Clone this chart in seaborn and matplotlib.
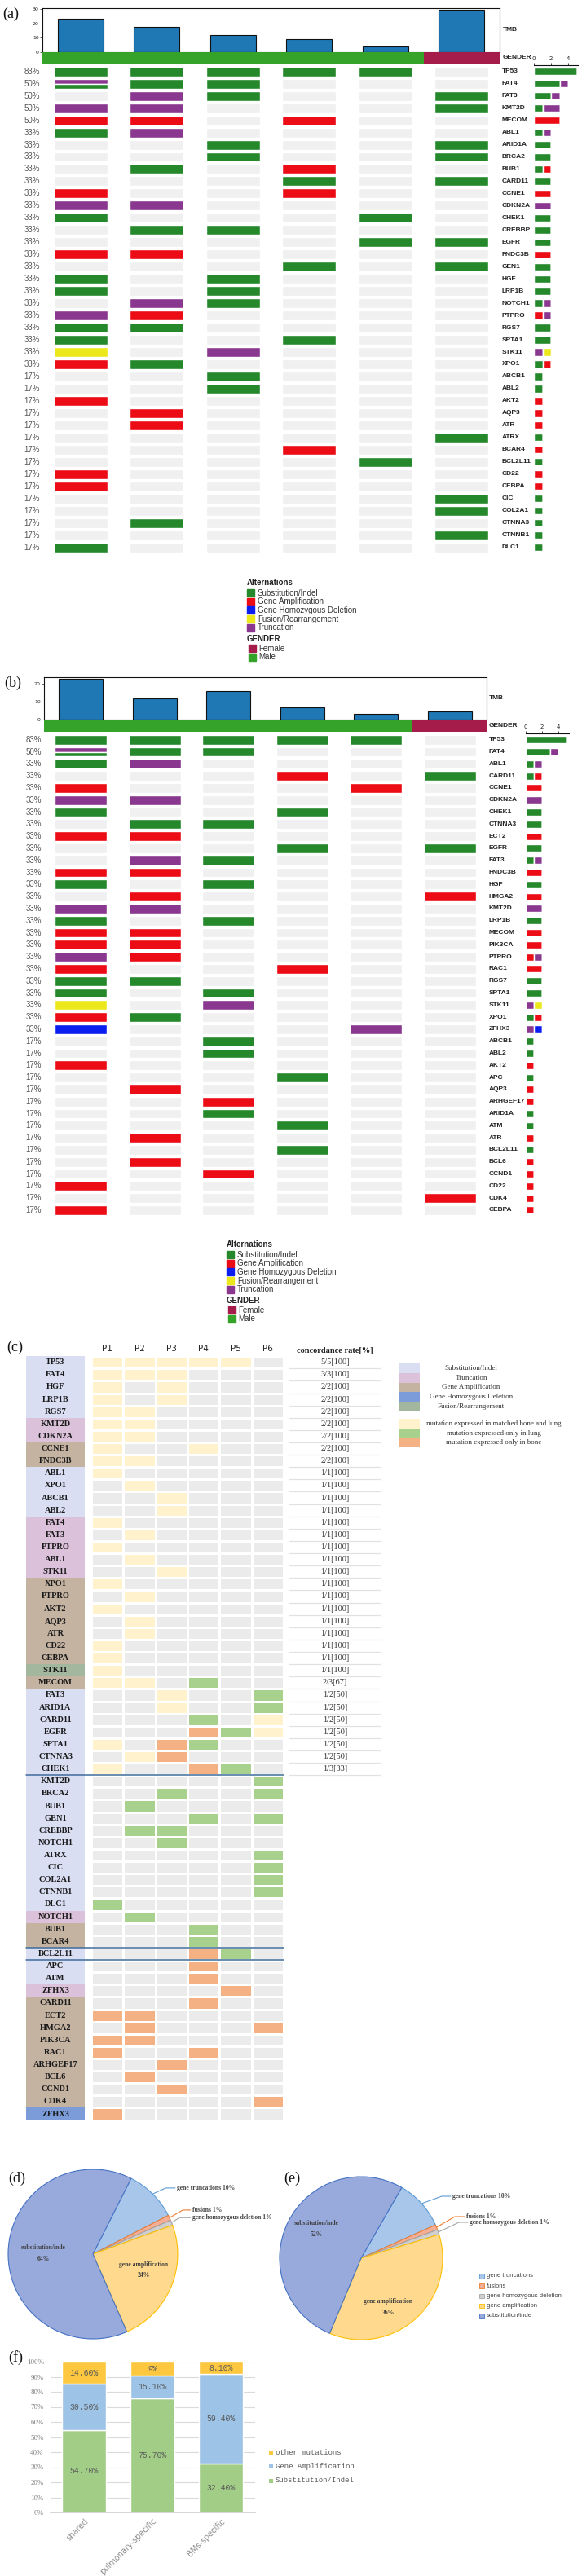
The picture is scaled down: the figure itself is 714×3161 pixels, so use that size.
import numpy as np
import matplotlib
matplotlib.use('Agg')
import matplotlib.pyplot as plt
from matplotlib.colors import ListedColormap
from matplotlib.patches import Rectangle
import seaborn as sns

sns.set_theme(style='white')
plt.rcParams['font.family'] = ['DejaVu Sans']

NARROW = ['Liberation Sans Narrow', 'Liberation Sans', 'DejaVu Sans']
SERIF = ['Liberation Serif', 'DejaVu Serif']
MONO = ['Liberation Mono', 'DejaVu Sans Mono']

W, H = 714, 3161

patients = ['P1', 'P2', 'P3', 'P4', 'P5', 'P6']
gender = ['Male', 'Male', 'Male', 'Male', 'Male', 'Female']

# alteration codes: G sub/indel, R amplification, B hom. deletion, Y fusion, P truncation
alt_codes = ['G', 'R', 'B', 'Y', 'P']
alt_labels = ['Substitution/Indel', 'Gene Amplification', 'Gene Homozygous Deletion',
              'Fusion/Rearrangement', 'Truncation']

# ---- panel (a)
tmb_a = [23, 17.5, 11.5, 9, 3.5, 29.5]
genes_a = ['TP53', 'FAT4', 'FAT3', 'KMT2D', 'MECOM', 'ABL1', 'ARID1A', 'BRCA2',
           'BUB1', 'CARD11', 'CCNE1', 'CDKN2A', 'CHEK1', 'CREBBP', 'EGFR', 'FNDC3B',
           'GEN1', 'HGF', 'LRP1B', 'NOTCH1', 'PTPRO', 'RGS7', 'SPTA1', 'STK11',
           'XPO1', 'ABCB1', 'ABL2', 'AKT2', 'AQP3', 'ATR', 'ATRX', 'BCAR4',
           'BCL2L11', 'CD22', 'CEBPA', 'CIC', 'COL2A1', 'CTNNA3', 'CTNNB1', 'DLC1']
muts_a = ['G G G G G -', 'PG G G - - -', '- P G - - G', 'P P - - - G', 'R R - R - -', 'G P - - - -', '- - G - - G', '- - G - - G',
          '- G - R - -', '- - - G - G', 'R - - R - -', 'P P - - - -', 'G - - - G -', '- G G - - -', '- - - - G G', 'R R - - - -',
          '- - - G - G', 'G - G - - -', 'G - G - - -', '- P G - - -', 'P R - - - -', 'G G - - - -', 'G - - G - -', 'Y - P - - -',
          'R G - - - -', '- - G - - -', '- - G - - -', 'R - - - - -', '- R - - - -', '- R - - - -', '- - - - - G', '- - - R - -',
          '- - - - G -', 'R - - - - -', 'R - - - - -', '- - - - - G', '- - - - - G', '- G - - - -', '- - - - - G', 'G - - - - -']

# ---- panel (b)
tmb_b = [22.5, 12, 16, 7, 3, 4.5]
genes_b = ['TP53', 'FAT4', 'ABL1', 'CARD11', 'CCNE1', 'CDKN2A', 'CHEK1', 'CTNNA3',
           'ECT2', 'EGFR', 'FAT3', 'FNDC3B', 'HGF', 'HMGA2', 'KMT2D', 'LRP1B',
           'MECOM', 'PIK3CA', 'PTPRO', 'RAC1', 'RGS7', 'SPTA1', 'STK11', 'XPO1',
           'ZFHX3', 'ABCB1', 'ABL2', 'AKT2', 'APC', 'AQP3', 'ARHGEF17', 'ARID1A',
           'ATM', 'ATR', 'BCL2L11', 'BCL6', 'CCND1', 'CD22', 'CDK4', 'CEBPA']
muts_b = ['G G G G G -', 'PG G G - - -', 'G P - - - -', '- - - R - G', 'R - - - R -', 'P P - - - -', 'G - - G - -', '- G G - - -',
          'R R - - - -', '- - - G - G', '- P G - - -', 'R R - - - -', 'G - G - - -', '- R - - - R', 'P P - - - -', 'G - G - - -',
          'R R - - - -', 'R R - - - -', 'P R - - - -', 'R - - R - -', 'G G - - - -', 'G - G - - -', 'Y - P - - -', 'R G - - - -',
          'B - - - P -', '- - G - - -', '- - G - - -', 'R - - - - -', '- - - G - -', '- R - - - -', '- - R - - -', '- - G - - -',
          '- - - G - -', '- R - - - -', '- - - G - -', '- R - - - -', '- - R - - -', 'R - - - - -', '- - - - - R', 'R - - - - -']

# ---- panel (c): category S sub/indel, T truncation, A amplification, D deletion, F fusion
# cell: Y both, L lung only, O bone only, - none
genes_c = ['TP53', 'FAT4', 'HGF', 'LRP1B', 'RGS7', 'KMT2D', 'CDKN2A', 'CCNE1', 'FNDC3B',
           'ABL1', 'XPO1', 'ABCB1', 'ABL2', 'FAT4', 'FAT3', 'PTPRO', 'ABL1', 'STK11',
           'XPO1', 'PTPRO', 'AKT2', 'AQP3', 'ATR', 'CD22', 'CEBPA', 'STK11', 'MECOM',
           'FAT3', 'ARID1A', 'CARD11', 'EGFR', 'SPTA1', 'CTNNA3', 'CHEK1', 'KMT2D',
           'BRCA2', 'BUB1', 'GEN1', 'CREBBP', 'NOTCH1', 'ATRX', 'CIC', 'COL2A1',
           'CTNNB1', 'DLC1', 'NOTCH1', 'BUB1', 'BCAR4', 'BCL2L11', 'APC', 'ATM',
           'ZFHX3', 'CARD11', 'ECT2', 'HMGA2', 'PIK3CA', 'RAC1', 'ARHGEF17', 'BCL6',
           'CCND1', 'CDK4', 'ZFHX3']
cat_c = list('SSSSSTTAASSSSTTTTTAAAAAAAFASSSSSSSSSSSSSSSSSSTAASSSTAAAAAAAAAD')
grid_c = ['YYYYY-', 'YYY---', 'Y-Y---', 'Y-Y---', 'YY----', 'YY----', 'YY----', 'Y--Y--',
          'YY----', 'Y-----', '-Y----', '--Y---', '--Y---', 'Y-----', '-Y----', 'Y-----',
          '-Y----', '--Y---', 'Y-----', '-Y----', 'Y-----', '-Y----', '-Y----', 'Y-----',
          'Y-----', 'Y-----', 'YY-L--', '--Y--L', '--Y--L', '---L-Y', '---OLY', 'Y-OL--',
          '-YO---', 'Y--OL-', '-----L', '--L--L', '-L----', '---L-L', '-LL---', '--L---',
          '-----L', '-----L', '-----L', '-----L', 'L-----', '-L----', '---L--', '---L--',
          '---OL-', '---O--', '---O--', '----O-', '---O--', 'OO----', '-O---O', 'OO----',
          'O--O--', '--O---', '-O----', '--O---', '-----O', 'O-----']
concord_c = ['5/5[100]', '3/3[100]'] + ['2/2[100]'] * 7 + ['1/1[100]'] * 17 + \
            ['2/3[67]'] + ['1/2[50]'] * 6 + ['1/3[33]']
separators_c = [34, 48, 49]

# ---- panels (d), (e)
pie_labels = ['gene truncations', 'fusions', 'gene homozygous deletion',
              'gene amplification', 'substitution/inde']
pie_d = [10, 1, 1, 24, 64]
pie_e = [10, 1, 1, 36, 52]

# ---- panel (f)
f_groups = ['shared', 'pulmonary-specific', 'BMs-specific']
f_sub = [54.7, 75.7, 32.4]
f_amp = [30.5, 15.1, 59.4]
f_other = [14.6, 9, 8.1]
f_names = ['Substitution/Indel', 'Gene Amplification', 'other mutations']

alt_color = {'G': '#25892c', 'R': '#ec0c16', 'B': '#0a1ef0', 'Y': '#ede81c', 'P': '#8a3790'}
gender_color = {'Male': '#35a22a', 'Female': '#a51c4b'}
cell_colors = ['#ebebeb', '#fff2cc', '#a9d18e', '#f4b183']
cat_colors = ['#d9def3', '#dcc1db', '#c5b3a2', '#7b9cd9', '#a2b79d']
pie_face = ['#a8c6ea', '#f4ae95', '#cfcfcf', '#fed98e', '#98a9dc']
pie_edge = ['#5b9bd5', '#ed7d31', '#a5a5a5', '#ffc000', '#4472c4']
f_colors = ['#a2cd86', '#9dc3e6', '#fdc83f']

fig = plt.figure(figsize=(W / 100, H / 100), dpi=100)


def add_ax(x0, y0, x1, y1):
    return fig.add_axes([x0 / W, 1 - y1 / H, (x1 - x0) / W, (y1 - y0) / H])


def oncoprint(genes, muts, tmb, tmb_max, tmb_ticks, x0, x1, y_tmb, y_gen,
              y_row0, row_h, pct_x, gene_x, cnt_x, cnt_max):
    n = len(genes)
    grid = [m.split() for m in muts]

    ax = add_ax(x0, y_tmb[0], x1, y_tmb[1])
    sns.barplot(x=patients, y=tmb, ax=ax, color='#1f78b4', saturation=1, width=0.6,
                edgecolor='#111111', linewidth=0.8)
    ax.set_xlim(-0.5, 5.5)
    ax.set_ylim(0, tmb_max)
    ax.set_xticks([])
    ax.set_xlabel('')
    ax.set_ylabel('')
    ax.set_yticks(tmb_ticks)
    ax.tick_params(axis='y', left=True, labelsize=4.5, length=2, width=0.5, pad=1)
    for s in ax.spines.values():
        s.set_linewidth(0.8)
        s.set_color('#111111')

    axg = add_ax(x0, y_gen[0], x1, y_gen[1])
    axg.bar(range(6), 1, width=1.0, linewidth=0,
            color=[gender_color[g] for g in gender])
    axg.set_xlim(-0.5, 5.5)
    axg.set_ylim(0, 1)
    axg.axis('off')

    ym0 = y_row0 - row_h / 2
    ym1 = y_row0 + (n - 0.5) * row_h
    axm = add_ax(x0, ym0, x1, ym1)
    rows = np.arange(n)
    for j in range(6):
        axm.bar(np.full(n, j), 0.8, bottom=rows - 0.4, width=0.71, color='#f0f0f0')
    for i, row in enumerate(grid):
        for j, cell in enumerate(row):
            if cell == '-':
                continue
            k = len(cell)
            for m, c in enumerate(cell):
                axm.bar(j, 0.8 / k, bottom=i - 0.4 + m * 0.8 / k, width=0.71,
                        color=alt_color[c])
    axm.set_xlim(-0.5, 5.5)
    axm.set_ylim(n - 0.5, -0.5)
    axm.axis('off')
    tr = axm.get_yaxis_transform()
    for i, row in enumerate(grid):
        n_alt = sum(c != '-' for c in row)
        axm.text((pct_x - x0) / (x1 - x0), i, f'{round(100 * n_alt / 6)}%', transform=tr,
                 ha='right', va='center', fontsize=7, color='#555555', family=NARROW)
        axm.text((gene_x - x0) / (x1 - x0), i, genes[i], transform=tr, ha='left',
                 va='center', fontsize=6, fontweight='bold', color='#222222', family=NARROW)

    axc = add_ax(cnt_x[0], ym0, cnt_x[1], ym1)
    left = np.zeros(n)
    for c in ['G', 'R', 'P', 'B', 'Y']:
        vals = np.array([sum(cell.count(c) for cell in row) for row in grid], dtype=float)
        axc.barh(rows, vals, left=left, height=0.62, color=alt_color[c])
        left += vals
    axc.set_xlim(0, cnt_max)
    axc.set_ylim(n - 0.5, -0.5)
    axc.xaxis.tick_top()
    axc.set_xticks([0, 2, 4])
    axc.set_yticks([])
    axc.tick_params(axis='x', top=True, labeltop=True, bottom=False, labelbottom=False,
                    length=2.5, width=0.6, pad=1, labelsize=5, colors='#222222')
    for s in ['left', 'right', 'bottom']:
        axc.spines[s].set_visible(False)
    axc.spines['top'].set_linewidth(0.8)
    axc.spines['top'].set_color('#111111')


oncoprint(genes_a, muts_a, tmb_a, 30.6, [0, 10, 20, 30], 52, 613, (10, 63.5), (64, 78),
          87.7, 14.97, 49, 616, (655, 709), 5.14)
oncoprint(genes_b, muts_b, tmb_b, 23.6, [0, 10, 20], 54, 597, (831, 883), (884, 898),
          907.7, 14.8, 51, 599.5, (645, 698), 5.3)

# ---- panel (c)
n_c = len(genes_c)
row_c = 15.12
top_c = 1671.7 - row_c / 2
bot_c = top_c + n_c * row_c
code_map = {'-': 0, 'Y': 1, 'L': 2, 'O': 3}
cat_map = {'S': 0, 'T': 1, 'A': 2, 'D': 3, 'F': 4}
cells = np.array([[code_map[c] for c in r] for r in grid_c])
cats = np.array([cat_map[c] for c in cat_c]).reshape(-1, 1)

axl = add_ax(32, top_c, 104, bot_c)
sns.heatmap(cats, ax=axl, cmap=ListedColormap(cat_colors), vmin=-0.5, vmax=4.5, cbar=False,
            annot=np.array(genes_c).reshape(-1, 1), fmt='', xticklabels=False,
            yticklabels=False, linewidths=0,
            annot_kws=dict(fontsize=7.5, fontweight='bold', color='#1a1a1a', family=SERIF))

axh = add_ax(112, top_c, 348, bot_c)
sns.heatmap(cells, ax=axh, cmap=ListedColormap(cell_colors), vmin=-0.5, vmax=3.5, cbar=False,
            linewidths=0.8, linecolor='white', xticklabels=patients, yticklabels=False)
axh.xaxis.tick_top()
axh.tick_params(axis='x', length=0, pad=3, labelsize=7.5, labelcolor='#222222', rotation=0)

axcc = add_ax(355, top_c, 467, bot_c)
axcc.set_xlim(0, 1)
axcc.set_ylim(n_c, 0)
axcc.axis('off')
for i, t in enumerate(concord_c):
    axcc.text(0.5, i + 0.5, t, ha='center', va='center', fontsize=7.5, color='#333333',
              family=SERIF)
    axcc.axhline(i + 1, color='#e2e2e2', lw=0.9)

# ---- panels (d), (e)
def pie_panel(vals, box, start, inner, leaders):
    ax = add_ax(*box)
    wedges, _ = ax.pie(vals, colors=pie_face, startangle=start, counterclock=False,
                       radius=1, wedgeprops=dict(linewidth=0.8))
    for w, ec in zip(wedges, pie_edge):
        w.set_edgecolor(ec)
    ax.set_xlim(-1, 1)
    ax.set_ylim(-1, 1)
    cum = np.cumsum([0] + vals[:-1])
    for k, (elbow, end) in leaders.items():
        th = np.deg2rad(start - (cum[k] + vals[k] / 2) * 3.6)
        ax.plot([np.cos(th), elbow[0], end], [np.sin(th), elbow[1], elbow[1]],
                color=pie_edge[k], lw=0.8, clip_on=False)
        ax.text(end + 0.02, elbow[1], f'{pie_labels[k]} {vals[k]}%', ha='left', va='center',
                fontsize=5.5, fontweight='bold', color='#404040', family=SERIF)
    for k, (x, y) in inner.items():
        ax.text(x, y, f'{pie_labels[k]}\n{vals[k]}%', ha='center', va='center',
                fontsize=5.5, fontweight='bold', color='#404040', family=SERIF,
                linespacing=1.9)


pie_panel(pie_d, (10, 2662, 218, 2870), 63.2,
          {4: (-0.58, 0.01), 3: (0.60, -0.19)},
          {0: ((0.86, 0.78), 0.97), 1: ((1.06, 0.52), 1.15), 2: ((1.02, 0.43), 1.15)})
pie_panel(pie_e, (343, 2671, 543, 2871), 60.1,
          {4: (-0.55, 0.36), 3: (0.33, -0.60)},
          {0: ((0.99, 0.76), 1.10), 1: ((1.15, 0.51), 1.27), 2: ((1.20, 0.44), 1.31)})

# ---- panel (f)
axf = add_ax(62, 2898, 313, 3083)
xs = np.arange(len(f_groups))
bottom = np.zeros(len(f_groups))
for vals, col in zip([f_sub, f_amp, f_other], f_colors):
    axf.bar(xs, vals, bottom=bottom, width=0.65, color=col, zorder=2)
    for x, b, v in zip(xs, bottom, vals):
        lab = f'{v:g}%' if float(v).is_integer() else f'{v:.2f}%'
        axf.text(x, b + v / 2, lab, ha='center', va='center', fontsize=7,
                 color='#5a5a5a', family=MONO, zorder=3)
    bottom += np.array(vals)
axf.set_xlim(-0.49, 2.5)
axf.set_ylim(0, 100)
axf.set_yticks(range(0, 101, 10))
axf.set_yticklabels([f'{t}%' for t in range(0, 101, 10)], family=SERIF)
axf.set_xticks(xs)
axf.set_xticklabels(f_groups, rotation=45, ha='right', rotation_mode='anchor')
axf.tick_params(axis='y', length=0, pad=6, labelsize=6.5, labelcolor='#7f7f7f')
axf.tick_params(axis='x', length=0, pad=4, labelsize=7, labelcolor='#8c8c8c')
axf.yaxis.grid(True, color='#dadada', lw=0.8)
axf.set_axisbelow(True)
for s in ['left', 'right', 'top']:
    axf.spines[s].set_visible(False)
axf.spines['bottom'].set_color('#d0d0d0')

# ---- overlay: panel letters, legends, side labels
ov = fig.add_axes([0, 0, 1, 1])
ov.set_xlim(0, W)
ov.set_ylim(H, 0)
ov.axis('off')

for lab, x, y in [('(a)', 3, 17), ('(b)', 5, 838), ('(c)', 8, 1653), ('(d)', 10, 2673),
                  ('(e)', 348, 2673), ('(f)', 10, 2893)]:
    ov.text(x, y, lab, fontsize=13, family=SERIF, ha='left', va='center', color='#111111')

for x, y_tmb, y_gen in [(617, 37, 71), (600, 857, 891)]:
    ov.text(x, y_tmb, 'TMB', fontsize=6, fontweight='bold', family=NARROW, va='center')
    ov.text(x, y_gen, 'GENDER', fontsize=6, fontweight='bold', family=NARROW, va='center')


def onco_legend(x, y0, dy):
    ov.text(x, y0, 'Alternations', fontsize=7, fontweight='bold', family=NARROW,
            va='center', color='#222222')
    for k, (c, lab) in enumerate(zip(alt_codes, alt_labels)):
        y = y0 + (k + 1.2) * dy
        ov.add_patch(Rectangle((x, y - 4.5), 9, 9, color=alt_color[c]))
        ov.text(x + 13, y, lab, fontsize=7, family=NARROW, va='center', color='#333333')
    yg = y0 + 6.5 * dy
    ov.text(x, yg, 'GENDER', fontsize=7, fontweight='bold', family=NARROW, va='center',
            color='#222222')
    for k, g in enumerate(['Female', 'Male']):
        y = yg + (k + 1.1) * dy
        ov.add_patch(Rectangle((x + 2, y - 4.5), 9, 9, color=gender_color[g]))
        ov.text(x + 14, y, g, fontsize=7, family=NARROW, va='center', color='#333333')


onco_legend(303, 715, 10.6)
onco_legend(278, 1527, 10.6)

# legend of (c)
c_cat_names = ['Substitution/Indel', 'Truncation', 'Gene Amplification',
               'Gene Homozygous Deletion', 'Fusion/Rearrangement']
c_cat_order = [0, 1, 2, 3, 4]
for k, ci in enumerate(c_cat_order):
    y = 1679 + k * 11.7
    ov.add_patch(Rectangle((489, y - 5.85), 26, 11.7, color=cat_colors[ci], lw=0))
    ov.text(578, y, c_cat_names[k], fontsize=6.5, family=SERIF, ha='center', va='center',
            color='#333333')
c_cell_names = ['mutation expressed in matched bone and lung', 'mutation expressed only in lung',
                'mutation expressed only in bone']
for k in range(3):
    y = 1747 + k * 11.7
    ov.add_patch(Rectangle((489, y - 5.85), 26, 11.7, color=cell_colors[k + 1], lw=0))
    ov.text(606, y, c_cell_names[k], fontsize=6.5, family=SERIF, ha='center', va='center',
            color='#333333')

ov.text(411, 1657, 'concordance rate[%]', fontsize=7.5, fontweight='bold', family=SERIF,
        ha='center', va='center', color='#222222')
for b in separators_c:
    y = top_c + b * row_c
    ov.plot([32, 348], [y, y], color='#3f6c9c', lw=1.1)

# legend of (e)
for k, lab in enumerate(pie_labels):
    y = 2793 + k * 12.2
    ov.add_patch(Rectangle((588, y - 2.8), 5.6, 5.6, facecolor=pie_face[k],
                           edgecolor=pie_edge[k], lw=0.6))
    ov.text(597, y, lab, fontsize=5.5, va='center', color='#404040', family=NARROW)

# legend of (f)
for k, lab in enumerate(f_names[::-1]):
    y = 3009 + k * 17.5
    ov.add_patch(Rectangle((330, y - 2.5), 5, 5, color=f_colors[::-1][k], lw=0))
    ov.text(338, y, lab, fontsize=6.5, va='center', color='#595959', family=MONO)

fig.savefig('out.png', dpi=100)
